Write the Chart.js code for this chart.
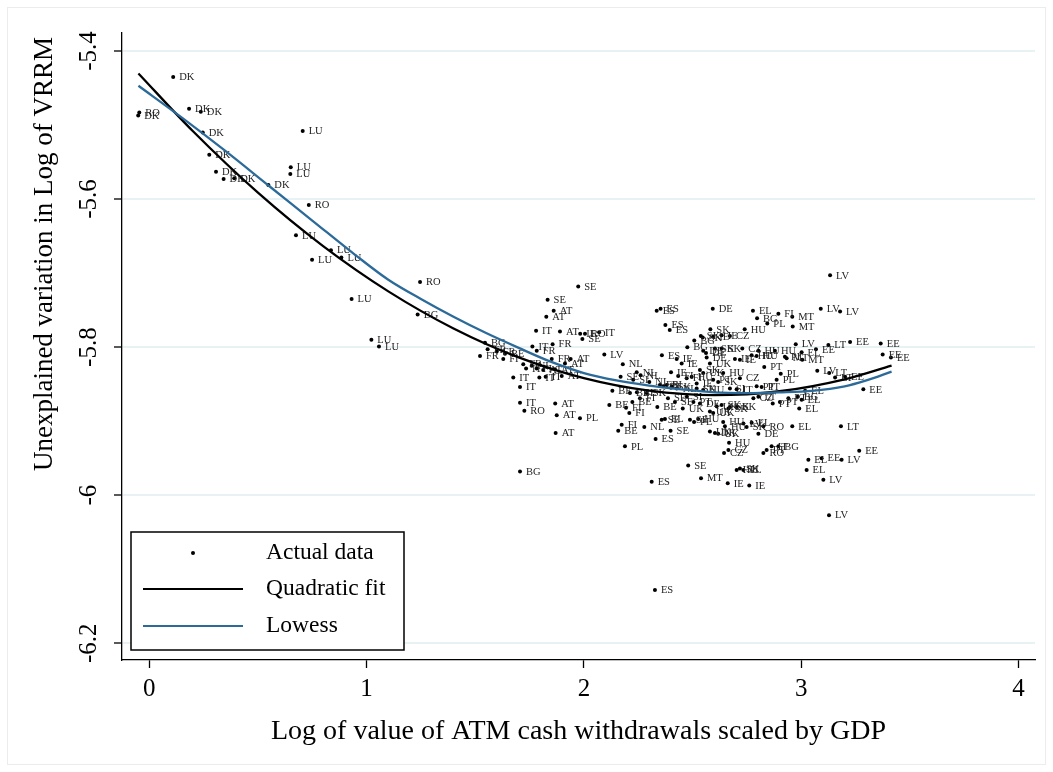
<!DOCTYPE html>
<html>
<head>
<meta charset="utf-8">
<script src="https://cdn.jsdelivr.net/npm/chart.js@4.4.0/dist/chart.umd.min.js"></script>
<style>
  html, body { margin: 0; padding: 0; background: #fff; }
  canvas { display: block; }
</style>
</head>
<body>
<canvas id="chart" width="1053" height="772"></canvas>
<script>
// Country code of each observation
const countries = [
  'DK','RO','DK','DK','DK','DK','DK','DK','DK','DK','DK','LU','LU','LU','RO','LU','LU','LU','LU','RO',
  'LU','BG','LU','LU','SE','SE','AT','AT','IT','AT','IE','RO','IT','SE','BG','FR','FR','BE','FR','IT',
  'FR','FR','FI','FR','AT','LV','AT','FR','IT','NL','FI','AT','AT','IT','IT','IT','AT','IT','NL','SE',
  'BE','IT','AT','RO','AT','PL','AT','BE','FI','FI','BE','FI','BE','PL','NL','BG','ES','ES','ES','BE',
  'BE','ES','ES','DE','EL','BG','FI','ES','ES','SK','HU','SK','SK','IE','IE','CZ','BG','BG','SK','DE',
  'DE','DE','CZ','IE','HU','HU','HU','ES','IE','LV','LV','LV','MT','PL','MT','LV','EE','LT','EE','EE',
  'EE','EE','LV','LT','LT','EE','HU','PL','MT','EL','MT','PT','PL','EE','PT','PT','BG','EL','EL','EL',
  'EL','LT','RO','PT','IT','BG','EE','EL','EE','LV','EL','LV','LV','RO','DE','SE','SE','EL','SE','PL',
  'HU','UK','DK','UK','HU','HU','LV','SK','EL','HU','CZ','CZ','SE','HU','SK','PL','MT','IE','IE','BE',
  'UK','UK','SK','SK','NL','NL','SI','NL','IE','FI','IE','FR','PT','SI','SK','NL','SK','FI','HU','IE',
  'SK','SK','IE','UK','HU','UK','CZ','PT','SK','PL','PT','PT','SI','IT','SK','HU','PT','CZ','LT','UK',
  'SK','SK','PT','DE','UK','FI','SE','SE','SI'
];

// Log of value of ATM cash withdrawals scaled by GDP
const atmLog = [
  0.110,-0.046,-0.051,0.183,0.237,0.246,0.276,0.307,0.342,0.391,0.548,0.706,0.651,0.649,0.734,0.675,0.836,0.749,0.884,1.246,
  0.931,1.235,1.022,1.057,1.974,1.833,1.861,1.827,1.780,1.890,1.983,2.005,2.070,1.993,1.545,1.557,1.599,1.637,1.522,1.763,
  1.783,1.856,1.629,1.852,1.939,2.094,1.913,1.721,1.734,1.760,1.783,1.813,1.867,1.675,1.795,1.824,1.898,1.706,2.179,2.169,
  2.131,1.706,1.868,1.726,1.875,1.982,1.870,2.117,2.194,2.209,2.223,2.174,2.158,2.189,2.278,1.706,2.312,2.330,2.327,2.212,
  2.244,2.335,2.353,2.593,2.778,2.797,2.895,2.375,2.395,2.582,2.740,2.538,2.547,2.595,2.634,2.672,2.508,2.476,2.603,2.549,
  2.562,2.565,2.729,2.695,2.772,2.795,2.803,2.359,2.427,3.133,3.090,3.179,2.959,2.844,2.961,2.975,3.068,3.125,3.225,3.366,
  3.375,3.413,3.074,3.129,3.156,3.202,2.879,2.925,2.933,3.002,3.005,2.830,2.906,3.286,2.869,2.941,2.984,3.002,2.991,3.018,
  2.959,3.183,2.826,2.841,2.864,2.895,3.267,3.033,3.094,3.186,3.025,3.102,3.128,2.826,2.803,2.399,2.358,2.373,2.488,2.507,
  2.526,2.580,2.603,2.618,2.641,2.649,2.734,2.749,2.772,2.668,2.665,2.645,2.480,2.703,2.718,2.734,2.539,2.662,2.761,2.338,
  2.455,2.595,2.672,2.703,2.243,2.261,2.227,2.301,2.401,2.434,2.450,2.350,2.365,2.381,2.404,2.427,2.289,2.473,2.496,2.519,
  2.534,2.634,2.718,2.580,2.641,2.549,2.718,2.595,2.618,2.887,2.795,2.818,2.672,2.703,2.519,2.549,2.902,2.780,2.803,2.611,
  2.634,2.665,2.504,2.534,2.580,2.258,2.387,2.419,2.474
];

// Unexplained variation in log of VRRM
const vrrmResid = [
  -5.435,-5.483,-5.487,-5.478,-5.482,-5.510,-5.540,-5.563,-5.573,-5.572,-5.581,-5.508,-5.557,-5.566,-5.608,-5.649,-5.669,-5.682,-5.679,-5.712,
  -5.735,-5.756,-5.790,-5.799,-5.718,-5.736,-5.751,-5.759,-5.778,-5.779,-5.782,-5.782,-5.780,-5.789,-5.794,-5.803,-5.806,-5.809,-5.812,-5.799,
  -5.805,-5.796,-5.816,-5.816,-5.816,-5.810,-5.822,-5.823,-5.829,-5.825,-5.829,-5.831,-5.830,-5.841,-5.841,-5.840,-5.839,-5.854,-5.823,-5.840,
  -5.859,-5.875,-5.876,-5.886,-5.892,-5.896,-5.916,-5.878,-5.882,-5.889,-5.874,-5.905,-5.913,-5.934,-5.908,-5.968,-5.982,-5.924,-6.128,-5.862,
  -5.861,-5.751,-5.748,-5.748,-5.751,-5.761,-5.755,-5.770,-5.777,-5.776,-5.776,-5.785,-5.787,-5.786,-5.784,-5.785,-5.791,-5.800,-5.802,-5.805,
  -5.808,-5.814,-5.802,-5.816,-5.811,-5.812,-5.805,-5.811,-5.816,-5.703,-5.748,-5.752,-5.759,-5.768,-5.772,-5.796,-5.803,-5.797,-5.793,-5.795,
  -5.810,-5.814,-5.832,-5.835,-5.841,-5.840,-5.805,-5.813,-5.815,-5.807,-5.817,-5.827,-5.836,-5.857,-5.876,-5.869,-5.867,-5.871,-5.883,-5.859,
  -5.907,-5.907,-5.943,-5.939,-5.934,-5.934,-5.940,-5.952,-5.950,-5.952,-5.966,-5.979,-6.027,-5.907,-5.917,-5.913,-5.898,-5.897,-5.898,-5.901,
  -5.897,-5.914,-5.916,-5.917,-5.901,-5.907,-5.903,-5.908,-5.902,-5.929,-5.939,-5.943,-5.960,-5.966,-5.964,-5.966,-5.977,-5.984,-5.987,-5.881,
  -5.883,-5.889,-5.881,-5.881,-5.834,-5.838,-5.844,-5.847,-5.834,-5.839,-5.822,-5.851,-5.853,-5.851,-5.853,-5.856,-5.862,-5.842,-5.840,-5.849,
  -5.831,-5.802,-5.817,-5.822,-5.835,-5.835,-5.842,-5.844,-5.847,-5.844,-5.853,-5.854,-5.856,-5.857,-5.856,-5.858,-5.874,-5.869,-5.867,-5.880,
  -5.878,-5.883,-5.874,-5.876,-5.887,-5.869,-5.869,-5.874,-5.867
];

// Quadratic fit
const quadX = [-0.05, 0.2, 0.5, 0.8, 1.1, 1.4, 1.7, 2.0, 2.3, 2.6, 2.9, 3.2, 3.416];
const quadY = [-5.4303, -5.5081, -5.5914, -5.6636, -5.7247, -5.7748, -5.8139, -5.8419, -5.8588, -5.8648, -5.8596, -5.8435, -5.8250];

// Lowess smoother
const lowessX = [-0.05, 0.15, 0.35, 0.55, 0.75, 0.95, 1.10, 1.25, 1.40, 1.55, 1.70, 1.85, 2.00, 2.15, 2.30, 2.45, 2.60, 2.75, 2.90, 3.05, 3.20, 3.30, 3.416];
const lowessY = [-5.447, -5.490, -5.535, -5.582, -5.629, -5.676, -5.709, -5.735, -5.759, -5.781, -5.801, -5.820, -5.835, -5.845, -5.852, -5.857, -5.861, -5.862, -5.861, -5.859, -5.853, -5.845, -5.833];

const xTicks = [0, 1, 2, 3, 4];
const yTicks = [-6.2, -6, -5.8, -5.6, -5.4];
const xTitle = 'Log of value of ATM cash withdrawals scaled by GDP';
const yTitle = 'Unexplained variation in Log of VRRM';
const legendItems = ['Actual data', 'Quadratic fit', 'Lowess'];

const SERIF = '"Liberation Serif", "DejaVu Serif", serif';
const LOWESS_COLOR = '#2c6a99';
const GRID_COLOR = '#e8f1f3';

const pairs = (xs, ys) => xs.map((x, i) => ({ x, y: ys[i] }));

const decorations = {
  id: 'decorations',
  beforeDraw(chart) {
    const { ctx, width, height } = chart;
    ctx.save();
    ctx.fillStyle = '#ffffff';
    ctx.fillRect(0, 0, width, height);
    ctx.strokeStyle = '#ececec';
    ctx.lineWidth = 1;
    ctx.strokeRect(7.5, 7.5, width - 15, height - 15);
    ctx.restore();
  },
  afterDatasetDraw(chart, args) {
    if (args.index !== 0) return;
    const ctx = chart.ctx;
    ctx.save();
    ctx.font = '10.5px ' + SERIF;
    ctx.fillStyle = '#222';
    ctx.textAlign = 'left';
    ctx.textBaseline = 'middle';
    args.meta.data.forEach((pt, i) => {
      ctx.fillText(countries[i], pt.x + 6, pt.y + 0.5);
    });
    ctx.restore();
  },
  afterDraw(chart) {
    const { ctx, chartArea } = chart;
    const yScale = chart.scales.y;
    ctx.save();
    // rotated y tick labels
    ctx.fillStyle = '#000';
    ctx.font = '25px ' + SERIF;
    ctx.textAlign = 'center';
    ctx.textBaseline = 'middle';
    yTicks.forEach(v => {
      const py = yScale.getPixelForValue(v);
      ctx.save();
      ctx.translate(chartArea.left - 33, py);
      ctx.rotate(-Math.PI / 2);
      ctx.fillText(String(v), 0, 0);
      ctx.restore();
    });
    // y axis title
    ctx.font = '27px ' + SERIF;
    ctx.save();
    ctx.translate(chartArea.left - 77, 254);
    ctx.rotate(-Math.PI / 2);
    ctx.fillText(yTitle, 0, 0);
    ctx.restore();

    // legend box
    const lx = chartArea.left + 9, lw = 273, lh = 118;
    const ly = chartArea.bottom - 10 - lh;
    ctx.fillStyle = '#fff';
    ctx.fillRect(lx, ly, lw, lh);
    ctx.strokeStyle = '#000';
    ctx.lineWidth = 1.5;
    ctx.strokeRect(lx, ly, lw, lh);
    const rows = [ly + 21, ly + 57, ly + 94];
    const symL = lx + 12, symR = lx + 112, textX = lx + 135;
    ctx.fillStyle = '#000';
    ctx.beginPath();
    ctx.arc((symL + symR) / 2, rows[0], 2, 0, Math.PI * 2);
    ctx.fill();
    ctx.lineWidth = 2.2;
    ctx.strokeStyle = '#000';
    ctx.beginPath(); ctx.moveTo(symL, rows[1]); ctx.lineTo(symR, rows[1]); ctx.stroke();
    ctx.strokeStyle = LOWESS_COLOR;
    ctx.beginPath(); ctx.moveTo(symL, rows[2]); ctx.lineTo(symR, rows[2]); ctx.stroke();
    ctx.font = '23.5px ' + SERIF;
    ctx.textAlign = 'left';
    ctx.fillStyle = '#000';
    legendItems.forEach((t, i) => ctx.fillText(t, textX, rows[i]));
    ctx.restore();
  }
};

new Chart(document.getElementById('chart'), {
  type: 'scatter',
  data: {
    datasets: [
      {
        label: legendItems[0],
        data: pairs(atmLog, vrrmResid),
        backgroundColor: '#000',
        borderColor: '#000',
        pointRadius: 2,
        borderWidth: 0,
        order: 3
      },
      {
        label: legendItems[1],
        type: 'line',
        data: pairs(quadX, quadY),
        borderColor: '#000',
        borderWidth: 2.3,
        pointRadius: 0,
        cubicInterpolationMode: 'monotone',
        fill: false,
        order: 2
      },
      {
        label: legendItems[2],
        type: 'line',
        data: pairs(lowessX, lowessY),
        borderColor: LOWESS_COLOR,
        borderWidth: 2.3,
        pointRadius: 0,
        cubicInterpolationMode: 'monotone',
        fill: false,
        order: 1
      }
    ]
  },
  options: {
    responsive: false,
    animation: false,
    devicePixelRatio: 1,
    layout: { padding: { left: 0, top: 33, right: 18, bottom: 0 } },
    plugins: {
      legend: { display: false },
      tooltip: { enabled: false }
    },
    scales: {
      x: {
        type: 'linear',
        min: -0.1256,
        max: 4.076,
        afterBuildTicks: s => { s.ticks = xTicks.map(v => ({ value: v })); },
        afterFit: s => { s.height = 112; },
        grid: { drawOnChartArea: false, drawTicks: true, tickLength: 8, tickColor: '#000', tickWidth: 1.3 },
        border: { display: true, color: '#000', width: 1.3 },
        ticks: { color: '#000', font: { family: SERIF, size: 25 }, padding: 6, maxRotation: 0 },
        title: {
          display: true,
          text: xTitle,
          color: '#000',
          font: { family: SERIF, size: 28 },
          padding: { top: 0, bottom: 24 }
        }
      },
      y: {
        type: 'linear',
        min: -6.2226,
        max: -5.3757,
        afterBuildTicks: s => { s.ticks = yTicks.map(v => ({ value: v })); },
        afterFit: s => { s.width = 122; },
        grid: { color: GRID_COLOR, lineWidth: 2, drawTicks: true, tickLength: 8, tickColor: '#000', tickWidth: 1.3 },
        border: { display: true, color: '#000', width: 1.3 },
        ticks: { display: false }
      }
    }
  },
  plugins: [decorations]
});
</script>
</body>
</html>
